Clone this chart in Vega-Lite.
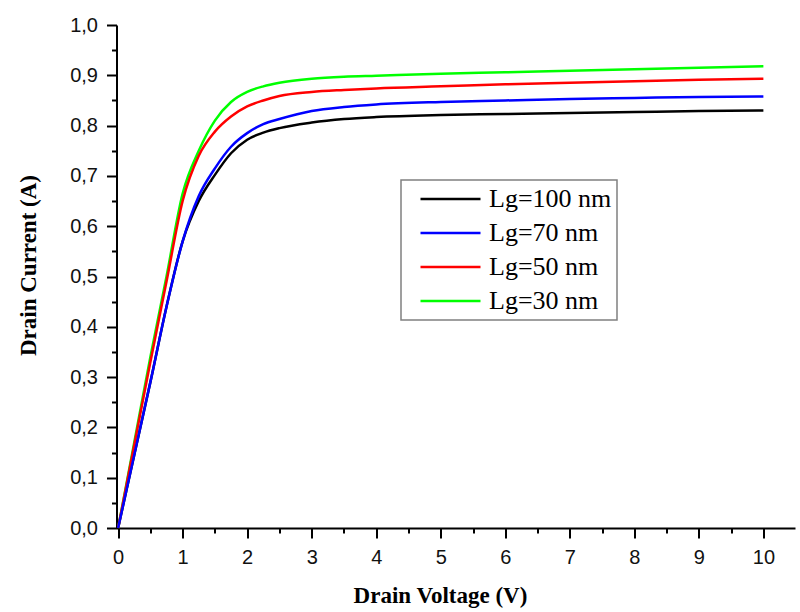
{
  "$schema": "https://vega.github.io/schema/vega-lite/v6.json",
  "width": 678.5,
  "height": 503,
  "autosize": {"type": "none"},
  "padding": {"left": 116.5, "top": 25, "right": 5, "bottom": 84},
  "background": "white",
  "config": {
    "view": {"stroke": null},
    "axis": {
      "grid": false,
      "domainColor": "black",
      "domainWidth": 2,
      "tickColor": "black",
      "tickWidth": 2,
      "labelFont": "Liberation Sans",
      "labelFontSize": 20,
      "labelColor": "#111111",
      "titleFont": "Liberation Serif",
      "titleFontWeight": "bold",
      "titleFontSize": 23,
      "titleColor": "black",
      "labelOverlap": false,
      "labelBound": false,
      "labelFlush": false
    },
    "legend": {
      "strokeWidth": 1.5
    }
  },
  "data": {
    "values": [
      {"V": 0, "I": 0, "Lg": "Lg=100 nm"},
      {"V": 0.25, "I": 0.145, "Lg": "Lg=100 nm"},
      {"V": 0.5, "I": 0.29, "Lg": "Lg=100 nm"},
      {"V": 0.75, "I": 0.44, "Lg": "Lg=100 nm"},
      {"V": 1.0, "I": 0.57, "Lg": "Lg=100 nm"},
      {"V": 1.25, "I": 0.65, "Lg": "Lg=100 nm"},
      {"V": 1.5, "I": 0.702, "Lg": "Lg=100 nm"},
      {"V": 1.75, "I": 0.745, "Lg": "Lg=100 nm"},
      {"V": 2.0, "I": 0.772, "Lg": "Lg=100 nm"},
      {"V": 2.25, "I": 0.786, "Lg": "Lg=100 nm"},
      {"V": 2.5, "I": 0.795, "Lg": "Lg=100 nm"},
      {"V": 3.0, "I": 0.806, "Lg": "Lg=100 nm"},
      {"V": 3.5, "I": 0.813, "Lg": "Lg=100 nm"},
      {"V": 4.0, "I": 0.817, "Lg": "Lg=100 nm"},
      {"V": 5.0, "I": 0.821, "Lg": "Lg=100 nm"},
      {"V": 6.0, "I": 0.823, "Lg": "Lg=100 nm"},
      {"V": 7.0, "I": 0.825, "Lg": "Lg=100 nm"},
      {"V": 8.0, "I": 0.827, "Lg": "Lg=100 nm"},
      {"V": 9.0, "I": 0.829, "Lg": "Lg=100 nm"},
      {"V": 10.0, "I": 0.830, "Lg": "Lg=100 nm"},
      {"V": 0, "I": 0, "Lg": "Lg=30 nm"},
      {"V": 0.25, "I": 0.17, "Lg": "Lg=30 nm"},
      {"V": 0.5, "I": 0.34, "Lg": "Lg=30 nm"},
      {"V": 0.75, "I": 0.50, "Lg": "Lg=30 nm"},
      {"V": 1.0, "I": 0.665, "Lg": "Lg=30 nm"},
      {"V": 1.25, "I": 0.75, "Lg": "Lg=30 nm"},
      {"V": 1.5, "I": 0.81, "Lg": "Lg=30 nm"},
      {"V": 1.75, "I": 0.847, "Lg": "Lg=30 nm"},
      {"V": 2.0, "I": 0.867, "Lg": "Lg=30 nm"},
      {"V": 2.25, "I": 0.878, "Lg": "Lg=30 nm"},
      {"V": 2.5, "I": 0.885, "Lg": "Lg=30 nm"},
      {"V": 3.0, "I": 0.893, "Lg": "Lg=30 nm"},
      {"V": 3.5, "I": 0.897, "Lg": "Lg=30 nm"},
      {"V": 4.0, "I": 0.899, "Lg": "Lg=30 nm"},
      {"V": 5.0, "I": 0.903, "Lg": "Lg=30 nm"},
      {"V": 6.0, "I": 0.906, "Lg": "Lg=30 nm"},
      {"V": 7.0, "I": 0.909, "Lg": "Lg=30 nm"},
      {"V": 8.0, "I": 0.912, "Lg": "Lg=30 nm"},
      {"V": 9.0, "I": 0.915, "Lg": "Lg=30 nm"},
      {"V": 10.0, "I": 0.918, "Lg": "Lg=30 nm"},
      {"V": 0, "I": 0, "Lg": "Lg=50 nm"},
      {"V": 0.25, "I": 0.165, "Lg": "Lg=50 nm"},
      {"V": 0.5, "I": 0.33, "Lg": "Lg=50 nm"},
      {"V": 0.75, "I": 0.49, "Lg": "Lg=50 nm"},
      {"V": 1.0, "I": 0.65, "Lg": "Lg=50 nm"},
      {"V": 1.25, "I": 0.74, "Lg": "Lg=50 nm"},
      {"V": 1.5, "I": 0.788, "Lg": "Lg=50 nm"},
      {"V": 1.75, "I": 0.818, "Lg": "Lg=50 nm"},
      {"V": 2.0, "I": 0.838, "Lg": "Lg=50 nm"},
      {"V": 2.25, "I": 0.850, "Lg": "Lg=50 nm"},
      {"V": 2.5, "I": 0.859, "Lg": "Lg=50 nm"},
      {"V": 3.0, "I": 0.867, "Lg": "Lg=50 nm"},
      {"V": 3.5, "I": 0.871, "Lg": "Lg=50 nm"},
      {"V": 4.0, "I": 0.874, "Lg": "Lg=50 nm"},
      {"V": 5.0, "I": 0.878, "Lg": "Lg=50 nm"},
      {"V": 6.0, "I": 0.882, "Lg": "Lg=50 nm"},
      {"V": 7.0, "I": 0.885, "Lg": "Lg=50 nm"},
      {"V": 8.0, "I": 0.888, "Lg": "Lg=50 nm"},
      {"V": 9.0, "I": 0.891, "Lg": "Lg=50 nm"},
      {"V": 10.0, "I": 0.893, "Lg": "Lg=50 nm"},
      {"V": 0, "I": 0, "Lg": "Lg=70 nm"},
      {"V": 0.25, "I": 0.145, "Lg": "Lg=70 nm"},
      {"V": 0.5, "I": 0.29, "Lg": "Lg=70 nm"},
      {"V": 0.75, "I": 0.44, "Lg": "Lg=70 nm"},
      {"V": 1.0, "I": 0.57, "Lg": "Lg=70 nm"},
      {"V": 1.25, "I": 0.66, "Lg": "Lg=70 nm"},
      {"V": 1.5, "I": 0.715, "Lg": "Lg=70 nm"},
      {"V": 1.75, "I": 0.758, "Lg": "Lg=70 nm"},
      {"V": 2.0, "I": 0.785, "Lg": "Lg=70 nm"},
      {"V": 2.25, "I": 0.803, "Lg": "Lg=70 nm"},
      {"V": 2.5, "I": 0.813, "Lg": "Lg=70 nm"},
      {"V": 3.0, "I": 0.829, "Lg": "Lg=70 nm"},
      {"V": 3.5, "I": 0.837, "Lg": "Lg=70 nm"},
      {"V": 4.0, "I": 0.842, "Lg": "Lg=70 nm"},
      {"V": 5.0, "I": 0.847, "Lg": "Lg=70 nm"},
      {"V": 6.0, "I": 0.850, "Lg": "Lg=70 nm"},
      {"V": 7.0, "I": 0.853, "Lg": "Lg=70 nm"},
      {"V": 8.0, "I": 0.855, "Lg": "Lg=70 nm"},
      {"V": 9.0, "I": 0.857, "Lg": "Lg=70 nm"},
      {"V": 10.0, "I": 0.858, "Lg": "Lg=70 nm"}
    ]
  },
  "mark": {"type": "line", "strokeWidth": 2.5, "interpolate": "monotone"},
  "encoding": {
    "x": {
      "field": "V",
      "type": "quantitative",
      "scale": {"domain": [-0.025, 10.49], "nice": false, "zero": false},
      "axis": {
        "title": "Drain Voltage (V)",
        "values": [0, 0.5, 1, 1.5, 2, 2.5, 3, 3.5, 4, 4.5, 5, 5.5, 6, 6.5, 7, 7.5, 8, 8.5, 9, 9.5, 10, 10.5],
        "labelExpr": "(datum.value % 1 == 0 && datum.value <= 10) ? format(datum.value, 'd') : ''",
        "tickSize": {"condition": {"test": "datum.value % 1 == 0 && datum.value <= 10", "value": 10}, "value": 5},
        "labelPadding": 9,
        "titleX": 323.5,
        "titleY": 67,
        "titleAlign": "center",
        "titleBaseline": "middle",
        "titleAnchor": null
      }
    },
    "y": {
      "field": "I",
      "type": "quantitative",
      "scale": {"domain": [0, 1], "nice": false, "zero": false},
      "axis": {
        "title": "Drain Current (A)",
        "values": [0, 0.05, 0.1, 0.15, 0.2, 0.25, 0.3, 0.35, 0.4, 0.45, 0.5, 0.55, 0.6, 0.65, 0.7, 0.75, 0.8, 0.85, 0.9, 0.95, 1.0],
        "labelExpr": "abs(datum.value * 10 - round(datum.value * 10)) < 0.001 ? replace(format(datum.value, '.1f'), '.', ',') : ''",
        "tickSize": {"condition": {"test": "abs(datum.value * 10 - round(datum.value * 10)) < 0.001", "value": 10}, "value": 5},
        "labelPadding": 9,
        "titleX": -88.5,
        "titleY": 240,
        "titleAngle": -90,
        "titleAlign": "center",
        "titleBaseline": "middle",
        "titleAnchor": null
      }
    },
    "color": {
      "field": "Lg",
      "type": "nominal",
      "scale": {
        "domain": ["Lg=100 nm", "Lg=70 nm", "Lg=50 nm", "Lg=30 nm"],
        "range": ["#000000", "#0000ff", "#ff0000", "#00ff00"]
      },
      "legend": {
        "title": null,
        "orient": "none",
        "legendX": 284.5,
        "legendY": 155,
        "symbolType": "stroke",
        "symbolSize": 3600,
        "symbolStrokeWidth": 2.5,
        "clipHeight": 28,
        "rowPadding": 6,
        "padding": 5,
        "symbolOffset": 13,
        "labelOffset": 7,
        "labelFont": "Liberation Serif",
        "labelFontSize": 26,
        "labelColor": "black",
        "strokeColor": "#808080",
        "fillColor": "white"
      }
    }
  }
}
